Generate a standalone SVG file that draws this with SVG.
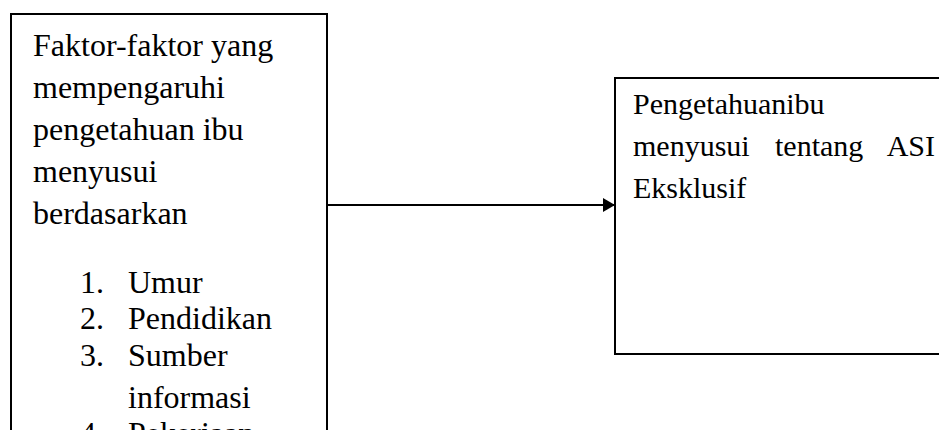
<svg xmlns="http://www.w3.org/2000/svg" width="939" height="430" viewBox="0 0 939 430">
<style>
.box{fill:#fff;stroke:#000;stroke-width:2}
.t{font-family:"Liberation Serif","Times New Roman",serif;font-size:32px;fill:#000}
.r{font-size:30px}
.edge{stroke:#000;stroke-width:2;fill:none}
</style>
<defs>
<marker id="ah" markerWidth="12" markerHeight="14" refX="12" refY="7" orient="auto" markerUnits="userSpaceOnUse">
<path d="M0,0 L12,7 L0,14 Z" fill="#000"/>
</marker>
</defs>
<rect width="939" height="430" fill="#fff"/>
<g id="node-faktor">
<rect class="box" x="11" y="14" width="316" height="440"/>
<text class="t" x="33" y="56">Faktor-faktor yang</text>
<text class="t" x="33" y="98">mempengaruhi</text>
<text class="t" x="33" y="140">pengetahuan ibu</text>
<text class="t" x="33" y="182">menyusui</text>
<text class="t" x="33" y="224">berdasarkan</text>
<text class="t" x="80" y="293">1.</text><text class="t" x="128" y="293">Umur</text>
<text class="t" x="80" y="329">2.</text><text class="t" x="128" y="329">Pendidikan</text>
<text class="t" x="80" y="366">3.</text><text class="t" x="128" y="366">Sumber</text>
<text class="t" x="128" y="408">informasi</text>
<text class="t" x="80" y="444">4.</text><text class="t" x="128" y="444">Pekerjaan</text>
</g>
<g id="node-pengetahuan">
<rect class="box" x="615" y="78" width="340" height="276"/>
<text class="t r" x="633" y="114">Pengetahuanibu</text>
<text class="t r" x="633" y="156">menyusui</text>
<text class="t r" x="775" y="156">tentang</text>
<text class="t r" x="935" y="156" text-anchor="end">ASI</text>
<text class="t r" x="633" y="198">Eksklusif</text>
</g>
<g id="connectors">
<line class="edge" x1="327" y1="205" x2="615" y2="205" marker-end="url(#ah)"/>
</g>
</svg>
